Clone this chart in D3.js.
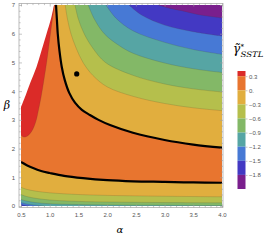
<!DOCTYPE html>
<html>
<head>
<meta charset="utf-8">
<script src="https://cdn.jsdelivr.net/npm/d3@7"></script>
<style>
  body { margin: 0; background: #fff; }
  svg { display: block; }
</style>
</head>
<body>
<div id="graph-container"></div>
<script>
// contour levels and legend range
const levels = [0.3, 0, -0.3, -0.6, -0.9, -1.2, -1.5, -1.8];
const valueRange = [-2.1, 0.41];
const xTicks = [0.5, 1.0, 1.5, 2.0, 2.5, 3.0, 3.5, 4.0];
const yTicks = [0, 1, 2, 3, 4, 5, 6, 7];

// contour lines, [alpha, beta]
const whiteEdge = [[0.5, 3.45], [0.58, 3.85], [0.66, 4.28], [0.77, 4.84], [0.86, 5.43], [0.95, 6.03], [1.02, 6.5], [1.075, 7]];
const level03 = [[0.5, 2.47], [0.55, 2.4], [0.62, 2.45], [0.7, 2.65], [0.76, 2.95], [0.8, 3.3], [0.85, 3.8], [0.9, 4.4], [0.95, 5.05], [1.0, 5.8], [1.04, 6.4], [1.085, 7]];

const upper0 = [[1.11, 7], [1.125, 6.5], [1.14, 6.0], [1.17, 5.4], [1.21, 4.84], [1.26, 4.4], [1.34, 3.94], [1.44, 3.6], [1.56, 3.35], [1.7, 3.17], [1.85, 3.0], [2.05, 2.82], [2.45, 2.55], [3.0, 2.3], [3.5, 2.14], [4.0, 2.03]];
const upperM03 = [[1.27, 7], [1.31, 6.5], [1.37, 6.0], [1.46, 5.5], [1.58, 5.0], [1.75, 4.55], [2.0, 4.15], [2.45, 3.82], [3.0, 3.57], [3.5, 3.42], [4.0, 3.32]];
const upperM06 = [[1.44, 7], [1.5, 6.5], [1.6, 6.0], [1.75, 5.5], [1.97, 5.0], [2.45, 4.55], [3.0, 4.25], [3.5, 4.08], [4.0, 3.97]];
const upperM09 = [[1.67, 7], [1.78, 6.5], [1.95, 6.0], [2.2, 5.6], [2.45, 5.32], [3.0, 4.98], [3.5, 4.78], [4.0, 4.65]];
const upperM12 = [[1.98, 7], [2.15, 6.55], [2.45, 6.1], [3.0, 5.7], [3.5, 5.45], [4.0, 5.28]];
const upperM15 = [[2.38, 7], [2.6, 6.65], [3.0, 6.3], [3.5, 6.07], [4.0, 5.92]];
const upperM18 = [[2.89, 7], [3.1, 6.88], [3.3, 6.8], [3.6, 6.66], [4.0, 6.55]];

const lower0 = [[0.5, 1.53], [0.6, 1.42], [0.71, 1.32], [0.85, 1.22], [1.0, 1.15], [1.25, 1.05], [1.58, 0.97], [2.0, 0.9], [2.45, 0.86], [3.0, 0.84], [3.5, 0.82], [4.0, 0.81]];
const lowerM03 = [[0.5, 0.65], [0.6, 0.58], [0.75, 0.52], [1.0, 0.46], [1.5, 0.4], [2.0, 0.37], [3.0, 0.34], [4.0, 0.32]];
const lowerM06 = [[0.5, 0.4], [0.6, 0.33], [0.75, 0.27], [1.0, 0.21], [1.5, 0.16], [2.0, 0.14], [3.0, 0.12], [4.0, 0.11]];
const lowerM09 = [[0.5, 0.23], [0.6, 0.17], [0.75, 0.12], [1.0, 0.08], [1.5, 0.05], [2.0, 0.035], [3.0, 0.025], [4.0, 0.015]];
const lowerM12 = [[0.5, 0.12], [0.6, 0.07], [0.75, 0.03], [0.9, 0]];
const lowerM15 = [[0.5, 0.05], [0.58, 0.02], [0.65, 0]];

const point = [1.47, 4.6];

// band colours, from highest band to lowest
const bandColors = ["#db2b28", "#e8752f", "#e1ae3e", "#b5bf4c", "#83b867", "#56a5a4", "#4779d5", "#4339c3", "#7a1f8d"];

const width = 266;
const height = 240;

const x = d3.scaleLinear().domain([0.5, 4]).range([21, 222]);
const y = d3.scaleLinear().domain([0, 7]).range([206, 5]);

const svg = d3
  .select("#graph-container")
  .append("svg")
  .attr("width", width)
  .attr("height", height);

svg.append("clipPath").attr("id", "plot-clip")
  .append("rect")
  .attr("x", x(0.5)).attr("y", y(7))
  .attr("width", x(4) - x(0.5)).attr("height", y(0) - y(7));

const line = d3.line().x((d) => x(d[0])).y((d) => y(d[1])).curve(d3.curveCatmullRom);

function region(pts, corners) {
  return line(pts) + corners.map((c) => `L${x(c[0])},${y(c[1])}`).join("") + "Z";
}

const plot = svg.append("g").attr("clip-path", "url(#plot-clip)");

// base band 0..0.3
plot.append("rect")
  .attr("x", x(0.5)).attr("y", y(7))
  .attr("width", x(4) - x(0.5)).attr("height", y(0) - y(7))
  .attr("fill", bandColors[1]);

// red band above 0.3, and undefined area
plot.append("path").attr("d", region(level03, [[0.5, 7]])).attr("fill", bandColors[0]);
plot.append("path").attr("d", region(whiteEdge, [[0.5, 7]])).attr("fill", "#fff");

const upper = [upper0, upperM03, upperM06, upperM09, upperM12, upperM15, upperM18];
const lower = [lower0, lowerM03, lowerM06, lowerM09, lowerM12, lowerM15];

//draw bands
plot.selectAll("path.upper")
  .data(upper)
  .enter()
  .append("path")
  .attr("class", "upper")
  .attr("d", (d) => region(d, [[4, 7]]))
  .attr("fill", (d, i) => bandColors[i + 2]);

plot.selectAll("path.lower")
  .data(lower)
  .enter()
  .append("path")
  .attr("class", "lower")
  .attr("d", (d) => region(d, [[d[d.length - 1][0], 0], [4, 0], [0.5, 0]]))
  .attr("fill", (d, i) => bandColors[i + 2]);

//thin contour lines
plot.selectAll("path.thin")
  .data([level03, ...upper.slice(1), ...lower.slice(1)])
  .enter()
  .append("path")
  .attr("class", "thin")
  .attr("d", line)
  .attr("fill", "none")
  .attr("stroke", "rgba(70,60,40,0.35)")
  .attr("stroke-width", 0.5);

//zero contours
plot.selectAll("path.zero")
  .data([upper0, lower0])
  .enter()
  .append("path")
  .attr("class", "zero")
  .attr("d", line)
  .attr("fill", "none")
  .attr("stroke", "#000")
  .attr("stroke-width", 2.2);

plot.append("circle")
  .attr("cx", x(point[0])).attr("cy", y(point[1]))
  .attr("r", 2.6).attr("fill", "#000");

// frame and ticks
const fL = 19, fR = 223, fT = 3.5, fB = 207.5;
svg.append("rect")
  .attr("x", fL).attr("y", fT).attr("width", fR - fL).attr("height", fB - fT)
  .attr("fill", "none").attr("stroke", "#a0a0a0").attr("stroke-width", 0.7);

const xMinor = d3.range(5, 41).map((v) => v / 10).filter((v) => Math.round(v * 10) % 5 !== 0);
const yMinor = d3.range(0, 36).map((v) => v / 5).filter((v) => Math.round(v * 5) % 5 !== 0);

function styleAxis(g) {
  g.select(".domain").remove();
  g.selectAll("line").attr("stroke", "#a0a0a0").attr("stroke-width", 0.6);
  g.selectAll("text").attr("fill", "#555").style("font-family", "Liberation Sans, sans-serif").style("font-size", "6px");
}

svg.append("g").attr("transform", `translate(0,${fB})`)
  .call(d3.axisBottom(x).tickValues(xTicks).tickFormat(d3.format(".1f")).tickSize(-3).tickPadding(5)).call(styleAxis);
svg.append("g").attr("transform", `translate(0,${fB})`)
  .call(d3.axisBottom(x).tickValues(xMinor).tickFormat("").tickSize(-1.6)).call(styleAxis);
svg.append("g").attr("transform", `translate(0,${fT})`)
  .call(d3.axisTop(x).tickValues(xTicks).tickFormat("").tickSize(-3)).call(styleAxis);
svg.append("g").attr("transform", `translate(0,${fT})`)
  .call(d3.axisTop(x).tickValues(xMinor).tickFormat("").tickSize(-1.6)).call(styleAxis);

svg.append("g").attr("transform", `translate(${fL},0)`)
  .call(d3.axisLeft(y).tickValues(yTicks).tickFormat(d3.format("d")).tickSize(-3).tickPadding(4)).call(styleAxis);
svg.append("g").attr("transform", `translate(${fL},0)`)
  .call(d3.axisLeft(y).tickValues(yMinor).tickFormat("").tickSize(-1.6)).call(styleAxis);
svg.append("g").attr("transform", `translate(${fR},0)`)
  .call(d3.axisRight(y).tickValues(yTicks).tickFormat("").tickSize(-3)).call(styleAxis);
svg.append("g").attr("transform", `translate(${fR},0)`)
  .call(d3.axisRight(y).tickValues(yMinor).tickFormat("").tickSize(-1.6)).call(styleAxis);

// axis labels
svg.append("text").attr("x", 120).attr("y", 233).attr("text-anchor", "middle")
  .style("font-family", "DejaVu Serif, serif").style("font-style", "italic").style("font-size", "10px")
  .text("α");
svg.append("text").attr("x", 7).attr("y", 109).attr("text-anchor", "middle")
  .style("font-family", "DejaVu Serif, serif").style("font-style", "italic").style("font-size", "11px")
  .text("β");

// legend
const ly = d3.scaleLinear().domain(valueRange).range([189, 71]);
const edges = [valueRange[1], ...levels, valueRange[0]];
const legend = svg.append("g");

legend.selectAll("rect")
  .data(d3.pairs(edges))
  .enter()
  .append("rect")
  .attr("x", 237.5)
  .attr("y", (d) => ly(d[0]))
  .attr("width", 8)
  .attr("height", (d) => ly(d[1]) - ly(d[0]))
  .attr("fill", (d, i) => bandColors[i]);

legend.append("g").attr("transform", "translate(245.5,0)")
  .call(d3.axisRight(ly).tickValues(levels).tickSize(2).tickPadding(1.5)
    .tickFormat((v) => (v === 0 ? "0." : d3.format(".1f")(v))))
  .call(styleAxis);

const title = svg.append("g").style("font-family", "DejaVu Serif, serif").style("font-style", "italic");
title.append("text").attr("x", 233).attr("y", 53).style("font-size", "12px").text("γ\u0303");
title.append("text").attr("x", 240.5).attr("y", 48.5).style("font-size", "7px").style("font-style", "normal").text("*");
title.append("text").attr("x", 240.5).attr("y", 56.5).style("font-size", "7.5px")
  .attr("textLength", 23).attr("lengthAdjust", "spacingAndGlyphs").text("SSTL");
</script>
</body>
</html>
